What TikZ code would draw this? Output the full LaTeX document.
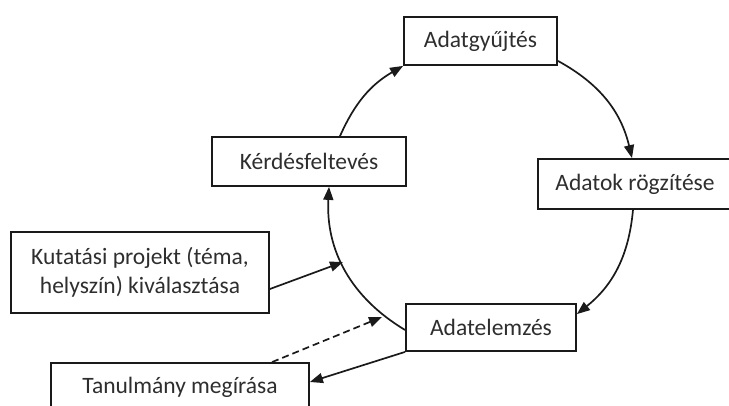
\documentclass[tikz,border=0pt]{standalone}
\usepackage{fontspec}
\setmainfont{Carlito}
\usetikzlibrary{arrows.meta,calc}
\definecolor{txt}{HTML}{2E2E2E}
\definecolor{ln}{HTML}{1A1A1A}
\begin{document}
\begin{tikzpicture}[x=1pt,y=1pt,
  box/.style={draw=ln,line width=1.8pt,rectangle,inner sep=0pt,text=txt,font=\fontsize{23.5}{28.5}\selectfont,align=center},
  conn/.style={draw=ln,line width=1.7pt,-{Triangle[length=13pt,width=10pt]}},
  dconn/.style={conn,dash pattern=on 7pt off 4pt}]
\useasboundingbox (0,0) rectangle (729,405);
\node[box,minimum width=153pt,minimum height=48pt] (ag) at (480.5,364) {Adatgyűjtés};
\node[box,minimum width=194pt,minimum height=49pt] (kq) at (309,243.5) {Kérdésfeltevés};
\node[box,minimum width=194pt,minimum height=50pt] (ar) at (635,221) {Adatok rögzítése};
\node[box,minimum width=170pt,minimum height=47pt] (ae) at (491,77.5) {Adatelemzés};
\node[box,minimum width=258pt,minimum height=81pt] (ku) at (140,132.5) {Kutatási projekt (téma,\\helyszín) kiválasztása};
\node[box,minimum width=258pt,minimum height=49pt] (tm) at (180,17.5) {\raisebox{4pt}{Tanulmány megírása}};
\coordinate (kuend) at (343,143);
\coordinate (dend) at (382,88);
\draw[conn] ($(kq.north)+(31,0)$) to[bend left=18] (ag.south west);
\draw[conn] ($(ag.south east)+(0,5)$) to[bend left=24] ($(ar.north)+(-3,0)$);
\draw[conn] ($(ar.south)+(-2,0)$) to[bend left=23] ($(ae.north east)+(0,-11)$);
\draw[conn] ($(ae.west)+(0,-2.5)$) to[bend left=31] ($(kq.south)+(20,0)$);
\draw[conn] ($(ku.east)+(0,-16.5)$) -- (kuend);
\draw[dconn] ($(tm.north)+(92,0)$) -- (dend);
\draw[conn] (ae.south west) -- ($(tm.east)+(0,5.5)$);
\end{tikzpicture}
\end{document}
